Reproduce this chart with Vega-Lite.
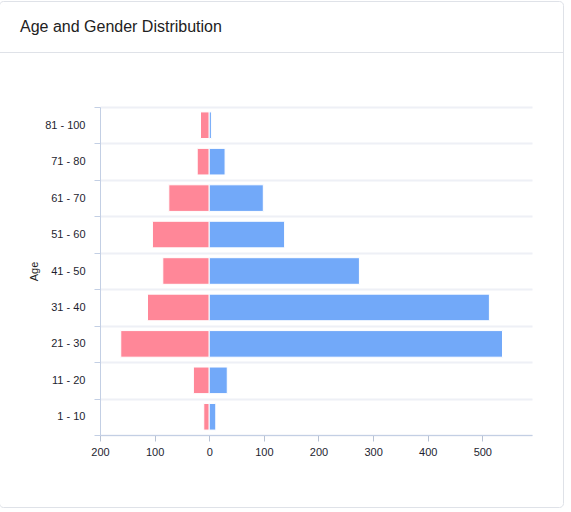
{
  "$schema": "https://vega.github.io/schema/vega-lite/v6.json",
  "autosize": {"type": "none"},
  "padding": {"top": 1, "left": -1, "right": 8, "bottom": 5},
  "width": 564,
  "height": 506,
  "config": {
    "view": {"stroke": "#dfe2e8", "cornerRadius": 4},
    "font": "Liberation Sans"
  },
  "title": {
    "text": "Age and Gender Distribution",
    "anchor": "start",
    "frame": "group",
    "orient": "top",
    "offset": -53,
    "baseline": "alphabetic",
    "dx": 21,
    "fontSize": 16,
    "fontWeight": "normal",
    "font": "Liberation Sans",
    "color": "#222222"
  },
  "data": {
    "values": [
      {"age": "81 - 100", "gender": "Female", "value": -16},
      {"age": "81 - 100", "gender": "Male", "value": 4},
      {"age": "71 - 80", "gender": "Female", "value": -22},
      {"age": "71 - 80", "gender": "Male", "value": 29},
      {"age": "61 - 70", "gender": "Female", "value": -74},
      {"age": "61 - 70", "gender": "Male", "value": 99},
      {"age": "51 - 60", "gender": "Female", "value": -104},
      {"age": "51 - 60", "gender": "Male", "value": 138},
      {"age": "41 - 50", "gender": "Female", "value": -85},
      {"age": "41 - 50", "gender": "Male", "value": 275},
      {"age": "31 - 40", "gender": "Female", "value": -113},
      {"age": "31 - 40", "gender": "Male", "value": 513},
      {"age": "21 - 30", "gender": "Female", "value": -162},
      {"age": "21 - 30", "gender": "Male", "value": 537},
      {"age": "11 - 20", "gender": "Female", "value": -29},
      {"age": "11 - 20", "gender": "Male", "value": 33},
      {"age": "1 - 10", "gender": "Female", "value": -10},
      {"age": "1 - 10", "gender": "Male", "value": 12}
    ]
  },
  "encoding": {
    "y": {
      "field": "age",
      "type": "nominal",
      "sort": ["81 - 100", "71 - 80", "61 - 70", "51 - 60", "41 - 50", "31 - 40", "21 - 30", "11 - 20", "1 - 10"],
      "scale": {"range": [106, 434], "paddingInner": 0, "paddingOuter": 0},
      "axis": {
        "title": "Age",
        "offset": -101,
        "tickBand": "extent",
        "grid": true,
        "gridColor": "#eef0f6",
        "gridWidth": 2,
        "domainColor": "#c3cfe4",
        "tickColor": "#c3cfe4",
        "tickSize": 6,
        "labelPadding": 9,
        "labelFontSize": 11,
        "labelColor": "#1e1e30",
        "labelFont": "Liberation Sans",
        "titleFont": "Liberation Sans",
        "titleFontSize": 11,
        "titleFontWeight": "normal",
        "titleColor": "#222222",
        "titlePadding": 5
      }
    }
  },
  "layer": [
    {
      "mark": {"type": "bar", "stroke": "white", "strokeWidth": 1, "height": {"band": 0.73}},
      "encoding": {
        "x": {
          "field": "value",
          "type": "quantitative",
          "scale": {"domain": [-200, 591], "range": [101, 533], "nice": false, "zero": false},
          "axis": {
            "title": null,
            "offset": -72,
            "grid": false,
            "values": [-200, -100, 0, 100, 200, 300, 400, 500],
            "labelExpr": "abs(datum.value)",
            "labelFlush": false,
            "labelOverlap": false,
            "domainColor": "#c3cfe4",
            "tickColor": "#b8c2d4",
            "tickSize": 6,
            "labelPadding": 5,
            "labelFontSize": 11,
            "labelColor": "#1e1e30",
            "labelFont": "Liberation Sans"
          }
        },
        "color": {
          "field": "gender",
          "type": "nominal",
          "scale": {"domain": ["Female", "Male"], "range": ["#ff8798", "#72a9f9"]},
          "legend": null
        }
      }
    },
    {
      "mark": {"type": "point", "opacity": 0},
      "encoding": {
        "x": {
          "field": "value",
          "type": "quantitative",
          "scale": {"range": [0, 564], "nice": false},
          "axis": {
            "orient": "top",
            "offset": -51,
            "title": null,
            "grid": false,
            "ticks": false,
            "labels": false,
            "domain": true,
            "domainColor": "#dfe2e8",
            "domainWidth": 1
          }
        }
      }
    }
  ],
  "resolve": {"scale": {"x": "independent"}, "axis": {"x": "independent"}}
}
